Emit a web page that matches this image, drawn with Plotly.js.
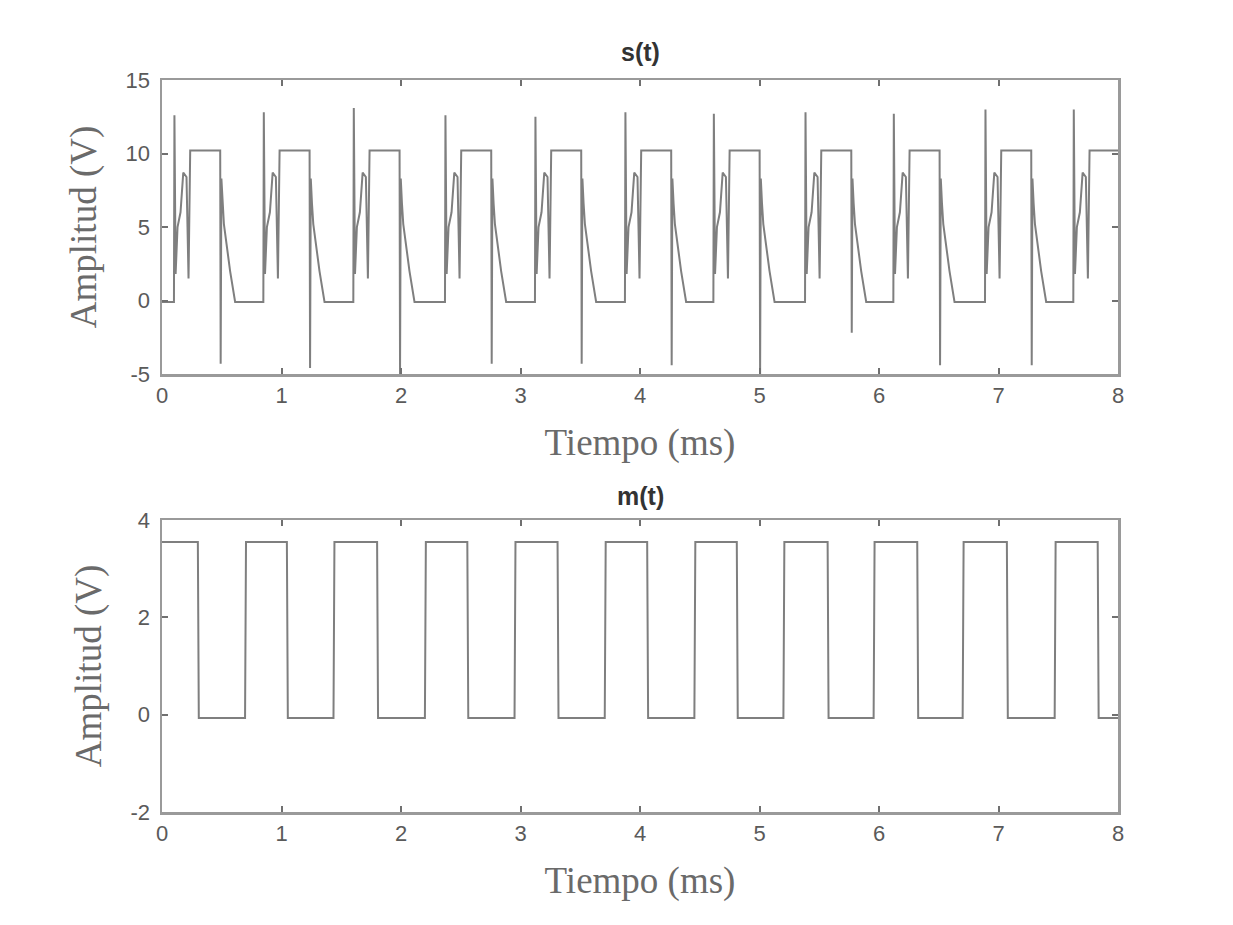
<!DOCTYPE html>
<html>
<head>
<meta charset="utf-8">
<script src="https://cdn.plot.ly/plotly-3.0.1.min.js"></script>
<style>html,body{margin:0;padding:0;background:#fff;}#chart{width:1233px;height:925px;}</style>
</head>
<body>
<div id="chart"></div>
<script>
// ---- s(t): per-period readings (ms / V) ----
var sLow = -0.1;
var sHigh = 10.2;
var sUpTimes   = [0.10, 0.848, 1.601, 2.368, 3.121, 3.874, 4.614, 5.381, 6.12, 6.887, 7.626];
var sUpPeaks   = [12.6, 12.8, 13.1, 12.6, 12.5, 12.8, 12.7, 12.8, 12.7, 13.0, 13.0];
var sDownPeaks = [-4.3, -4.6, -5.0, -4.3, -4.3, -4.4, -5.0, -2.2, -4.4, -4.4];
// shape of one period, offsets (ms) after the upward spike
var riseOffsets = [0.000, 0.004, 0.014, 0.030, 0.055, 0.078, 0.105, 0.122, 0.136];
var riseValues  = [null,  'UP', 1.8,   5.0,   6.0,   8.7,   8.4,   1.5,   10.2];
var fallOffsets = [0.387, 0.391, 0.397, 0.407, 0.418, 0.470, 0.512];
var fallValues  = [10.2,  'DOWN', 8.3,  6.6,   5.2,   2.0,   null];

// ---- m(t): transition times (ms) ----
var mHigh = 3.55;
var mLow = -0.07;
var mFalls = [0.30, 1.045, 1.80, 2.555, 3.31, 4.06, 4.81, 5.57, 6.32, 7.07, 7.83];
var mRises = [0.695, 1.435, 2.20, 2.95, 3.705, 4.455, 5.20, 5.955, 6.70, 7.47];

var xTicks = [0, 1, 2, 3, 4, 5, 6, 7, 8];
var sYTicks = [-5, 0, 5, 10, 15];
var mYTicks = [-2, 0, 2, 4];

// build s(t)
var sx = [0], sy = [sLow];
for (var k = 0; k < sUpTimes.length; k++) {
  var t0 = sUpTimes[k];
  for (var i = 0; i < riseOffsets.length; i++) {
    var v = riseValues[i];
    if (v === null) v = sLow;
    if (v === 'UP') v = sUpPeaks[k];
    sx.push(t0 + riseOffsets[i]); sy.push(v);
  }
  if (k < sDownPeaks.length) {
    for (var j = 0; j < fallOffsets.length; j++) {
      var w = fallValues[j];
      if (w === null) w = sLow;
      if (w === 'DOWN') w = sDownPeaks[k];
      sx.push(t0 + fallOffsets[j]); sy.push(w);
    }
  } else {
    sx.push(8.0); sy.push(sHigh);
  }
}

// build m(t)
var mx = [0], my = [mHigh];
for (var n = 0; n < mFalls.length; n++) {
  mx.push(mFalls[n]); my.push(mHigh);
  mx.push(mFalls[n] + 0.008); my.push(mLow);
  if (n < mRises.length) {
    mx.push(mRises[n]); my.push(mLow);
    mx.push(mRises[n] + 0.008); my.push(mHigh);
  }
}
mx.push(8.0); my.push(mLow);

var lineColor = '#7f7f7f';
var traces = [
  {x: sx, y: sy, type: 'scatter', mode: 'lines', line: {color: lineColor, width: 2}, xaxis: 'x', yaxis: 'y', hoverinfo: 'skip'},
  {x: mx, y: my, type: 'scatter', mode: 'lines', line: {color: lineColor, width: 2}, xaxis: 'x2', yaxis: 'y2', hoverinfo: 'skip'}
];

var tickFont = {family: 'Liberation Sans, Arial, sans-serif', size: 22, color: '#5a5a5a'};
var labelFont = {family: 'Liberation Serif, Times New Roman, serif', size: 37, color: '#6a6a6a'};
function xax(anchor) {
  return {
    domain: [162/1233, 1118/1233], range: [0, 8], anchor: anchor,
    tickvals: xTicks, ticktext: xTicks.map(String),
    ticks: 'inside', ticklen: 6, tickcolor: '#707070', tickwidth: 2,
    showline: true, linecolor: '#9a9a9a', linewidth: 2.5, mirror: 'ticks',
    showgrid: false, zeroline: false, tickfont: tickFont,
    title: {text: 'Tiempo (ms)', font: labelFont, standoff: 22}
  };
}
function yax(anchor, dom, rng, tv) {
  return {
    domain: dom, range: rng, anchor: anchor,
    tickvals: tv, ticktext: tv.map(String),
    ticks: 'inside', ticklen: 6, tickcolor: '#707070', tickwidth: 2,
    showline: true, linecolor: '#9a9a9a', linewidth: 2.5, mirror: 'ticks',
    showgrid: false, zeroline: false, tickfont: tickFont, ticklabelstandoff: 5,
    title: {text: 'Amplitud (V)', font: labelFont, standoff: 18}
  };
}

var layout = {
  width: 1233, height: 925,
  margin: {l: 0, r: 0, t: 0, b: 0},
  paper_bgcolor: '#ffffff', plot_bgcolor: '#ffffff',
  showlegend: false,
  xaxis: xax('y'),
  yaxis: yax('x', [(925-374)/925, (925-80)/925], [-5, 15], sYTicks),
  xaxis2: xax('y2'),
  yaxis2: yax('x2', [(925-812)/925, (925-520)/925], [-2, 4], mYTicks),
  annotations: [
    {text: '<b>s(t)</b>', xref: 'paper', yref: 'paper', x: (162+1118)/2/1233, y: (925-52)/925, xanchor: 'center', yanchor: 'middle', showarrow: false, font: {family: 'Liberation Sans, Arial, sans-serif', size: 25, color: '#333333'}},
    {text: '<b>m(t)</b>', xref: 'paper', yref: 'paper', x: (162+1118)/2/1233, y: (925-496)/925, xanchor: 'center', yanchor: 'middle', showarrow: false, font: {family: 'Liberation Sans, Arial, sans-serif', size: 25, color: '#333333'}}
  ]
};

Plotly.newPlot('chart', traces, layout, {staticPlot: true, displayModeBar: false});
</script>
</body>
</html>
